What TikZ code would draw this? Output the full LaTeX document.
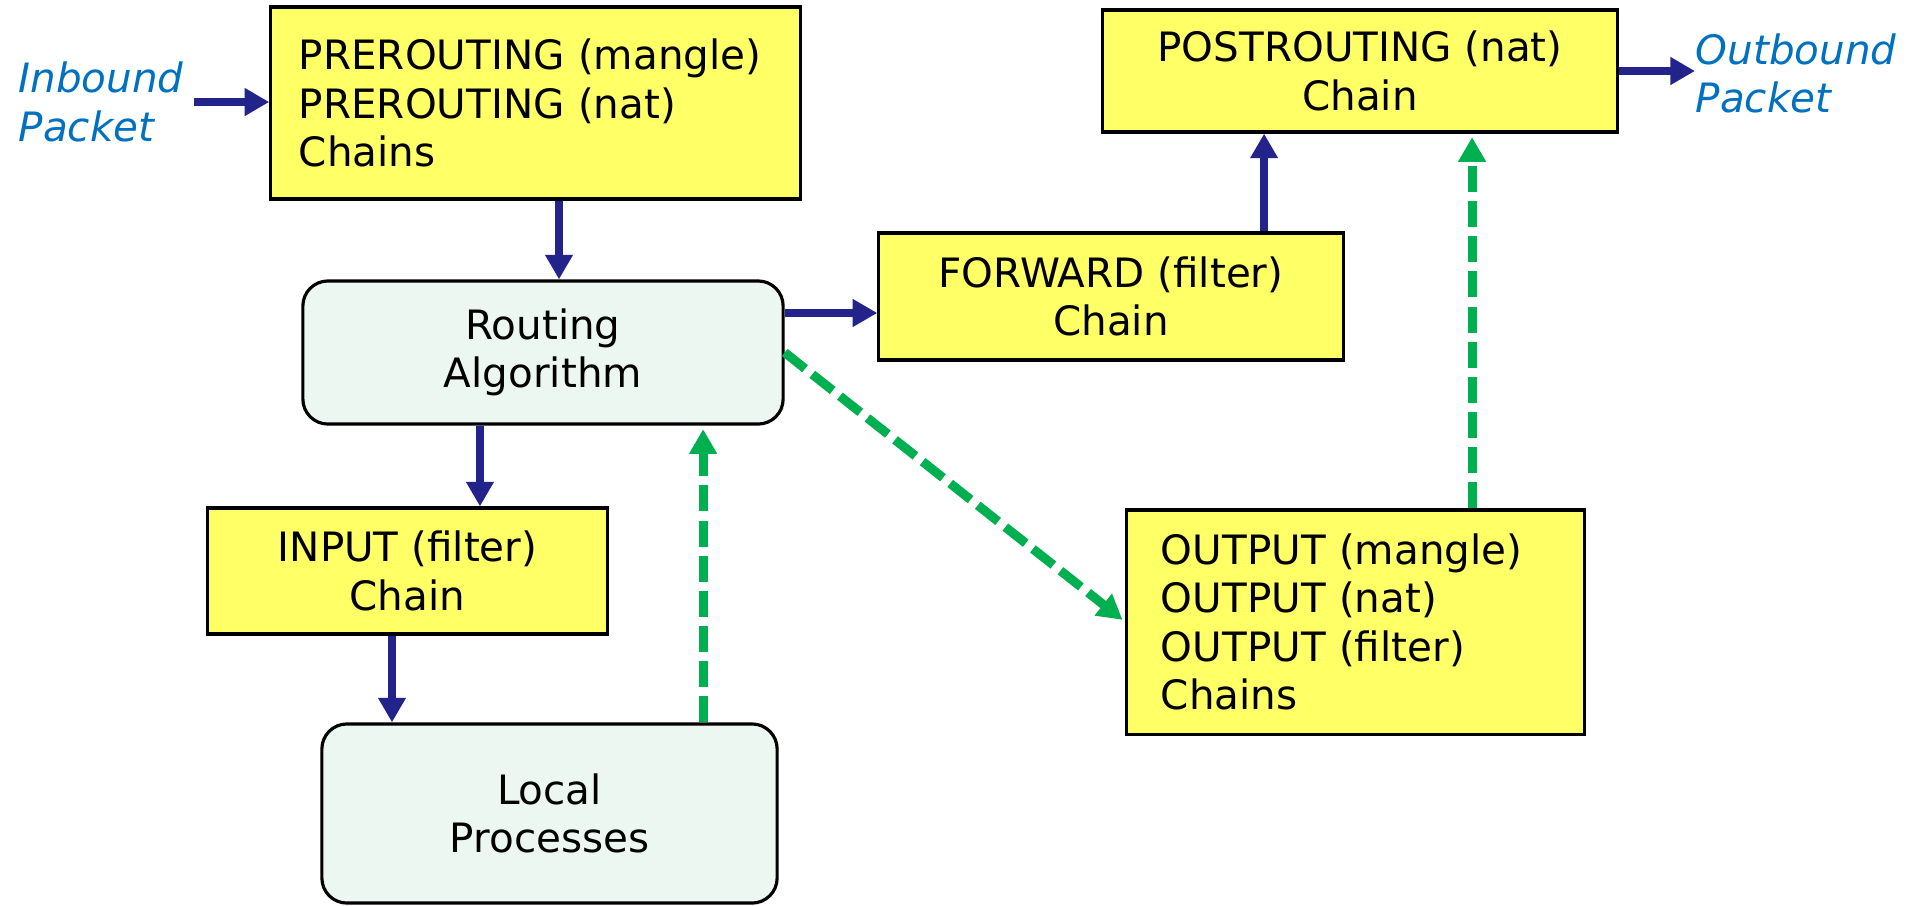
\documentclass[tikz,border=0pt]{standalone}
\usepackage{fontspec}
\setmainfont{DejaVu Sans}
\usetikzlibrary{arrows.meta}
\definecolor{chainyellow}{RGB}{255,255,102}
\definecolor{procmint}{RGB}{237,247,241}
\definecolor{flownavy}{RGB}{35,35,140}
\definecolor{ctrlgreen}{RGB}{0,176,80}
\definecolor{pktblue}{RGB}{0,112,192}

\begin{document}
\begin{tikzpicture}[x=0.01cm,y=-0.01cm,font=\fontsize{11.5}{13.8}\selectfont,
	chain/.style={draw=black,line width=0.9pt,fill=chainyellow,inner sep=0pt,align=center},
	chainleft/.style={chain,align=left},
	proc/.style={draw=black,line width=0.9pt,fill=procmint,rounded corners=0.25cm,inner sep=0pt,align=center},
	pkt/.style={anchor=west,inner sep=0pt,align=left,text=pktblue,font=\fontsize{11.5}{13.8}\selectfont\itshape},
	flow/.style={draw=flownavy,line width=2.4pt,-{Triangle[width=7.5pt,length=7pt]}},
	ctrl/.style={draw=ctrlgreen,line width=2.6pt,dash pattern=on 7.4pt off 2.6pt,shorten >=1pt,-{Triangle[width=7.5pt,length=7pt]}}]
\useasboundingbox (0,0) rectangle (1915,905);
\node [chainleft, minimum width=5.29cm, minimum height=1.92cm, text width=4.73cm, inner xsep=0.28cm] (pre) at (535.5,103) {PREROUTING (mangle)\\PREROUTING (nat)\\Chains};
\node [chain, minimum width=5.14cm, minimum height=1.22cm] (post) at (1360,71) {POSTROUTING (nat)\\Chain};
\node [chain, minimum width=4.64cm, minimum height=1.27cm] (fwd) at (1111,296.5) {FORWARD (filter)\\Chain};
\node [proc, minimum width=4.80cm, minimum height=1.43cm] (route) at (543,352.5) {Routing\\Algorithm};
\node [chain, minimum width=3.99cm, minimum height=1.26cm] (input) at (407.5,571) {INPUT (filter)\\Chain};
\node [proc, minimum width=4.55cm, minimum height=1.79cm] (local) at (549.5,813.5) {Local\\Processes};
\node [chainleft, minimum width=4.57cm, minimum height=2.24cm, text width=3.89cm, inner xsep=0.34cm] (output) at (1355.5,622) {OUTPUT (mangle)\\OUTPUT (nat)\\OUTPUT (filter)\\Chains};
\node [pkt] (inb) at (18,102) {Inbound\\Packet};
\node [pkt] (outb) at (1695,73.5) {Outbound\\Packet};

\draw[flow] ([xshift=1mm]inb.east) -- (inb.east -| pre.west);
\draw[flow] (post.east) -- (post.east -| outb.west);
\draw[flow] ([xshift=2.35mm]pre.south) -- ([xshift=2.35mm]pre.south |- route.north);
\draw[flow] ([xshift=-6.3mm]route.south) -- ([xshift=-6.3mm]route.south |- input.north);
\draw[flow] ([xshift=-1.55mm]input.south) -- ([xshift=-1.55mm]input.south |- local.north);
\draw[flow] ([yshift=3.95mm]route.east) -- ([yshift=3.95mm]route.east -| fwd.west);
\draw[flow] ([xshift=15.3mm]fwd.north) -- ([xshift=15.3mm]fwd.north |- post.south);
\draw[ctrl] ([xshift=15.35mm]local.north) -- ([xshift=15.35mm]local.north |- route.south);
\draw[ctrl] (route.east) -- (output.west);
\draw[ctrl] ([xshift=11.65mm]output.north) -- ([xshift=11.65mm]output.north |- post.south);
\end{tikzpicture}
\end{document}
